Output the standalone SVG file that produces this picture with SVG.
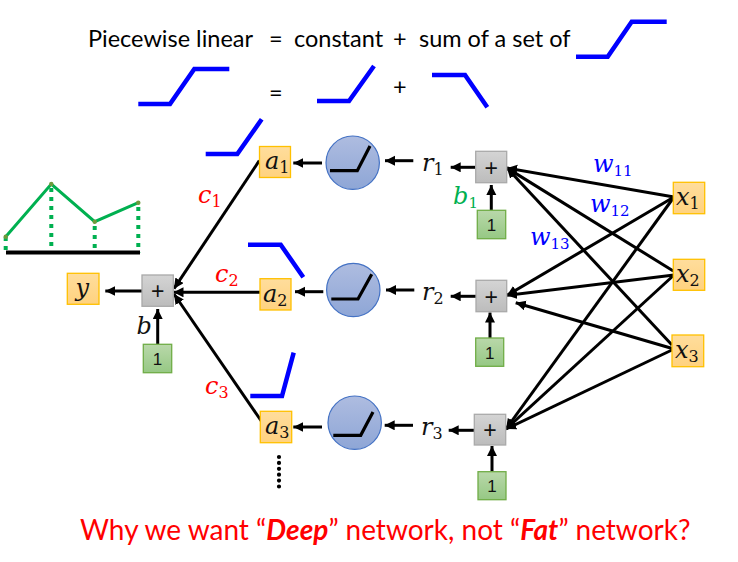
<svg xmlns="http://www.w3.org/2000/svg" width="738" height="562" viewBox="0 0 738 562">
<style>
.t{font-family:Lato,"Open Sans","Liberation Sans",sans-serif;font-size:23.5px;fill:#000}
.m{font-family:"DejaVu Serif","Liberation Serif",serif;font-style:italic;font-size:24px;fill:#111}
.s{font-size:16px;font-style:normal}
.s2{font-size:15px;font-style:normal}
.one{font-family:"Liberation Sans",sans-serif;font-size:17px;fill:#111;text-anchor:middle}
.p{font-family:"Liberation Sans",sans-serif;font-size:23px;fill:#111;text-anchor:middle}
.hinge{fill:none;stroke:#0000ff;stroke-width:4.5}
.relu{fill:none;stroke:#000;stroke-width:3.2}
.o{fill:url(#og);stroke:#ffc000;stroke-width:1.3}
.g{fill:url(#gg);stroke:#a9a9a9;stroke-width:1.3}
.n{fill:url(#ng);stroke:#70ad47;stroke-width:1.3}
.c{fill:url(#cg);stroke:#4472c4;stroke-width:1.2}
#connectors line{stroke:#000;stroke-width:3;marker-end:url(#a)}
.drop{stroke:#00b050;stroke-width:4;stroke-dasharray:4 5}
</style>
<defs>
<linearGradient id="og" x1="0" y1="0" x2="0" y2="1"><stop offset="0" stop-color="#ffdd9c"/><stop offset="1" stop-color="#ffd27f"/></linearGradient>
<linearGradient id="gg" x1="0" y1="0" x2="0" y2="1"><stop offset="0" stop-color="#d4d4d4"/><stop offset="1" stop-color="#bcbcbc"/></linearGradient>
<linearGradient id="ng" x1="0" y1="0" x2="0" y2="1"><stop offset="0" stop-color="#b9d8aa"/><stop offset="1" stop-color="#96c884"/></linearGradient>
<linearGradient id="cg" x1="0" y1="0" x2="0" y2="1"><stop offset="0" stop-color="#aebce0"/><stop offset="1" stop-color="#8ea6d6"/></linearGradient>
<marker id="a" markerUnits="userSpaceOnUse" markerWidth="12" markerHeight="12" refX="10" refY="5" orient="auto"><path d="M0 0L10 5L0 10Z" fill="#000"/></marker>
</defs>

<!-- heading and decomposition of the step curve -->
<g id="heading">
<text class="t" x="88" y="47">Piecewise linear</text>
<text class="t" x="269" y="47">=</text>
<text class="t" x="294" y="47">constant</text>
<text class="t" x="393" y="47">+</text>
<text class="t" x="419" y="47">sum of a set of</text>
<text class="t" x="269" y="101">=</text>
<text class="t" x="393" y="95">+</text>
<path class="hinge" d="M576 56.7H607.7L631.7 21.7H666.7"/>
<path class="hinge" d="M138.3 104H170L194.3 69H229.3"/>
<path class="hinge" d="M317 101H349L374 66"/>
<path class="hinge" d="M432 75H465L487.3 107.3"/>
<path class="hinge" d="M205.7 154H237.3L261.7 119.3"/>
<path class="hinge" d="M248 244.7H280.7L303.3 277.3"/>
<path class="hinge" d="M250.3 396H282L293.7 352.7"/>
</g>

<!-- piecewise curve sketch -->
<g id="curve">
<line class="drop" x1="5.7" y1="237" x2="5.7" y2="253"/>
<line class="drop" x1="51.3" y1="188" x2="51.3" y2="253"/>
<line class="drop" x1="94.7" y1="226" x2="94.7" y2="253"/>
<line class="drop" x1="138.3" y1="207" x2="138.3" y2="253"/>
<path d="M6 252.5H140" stroke="#000" stroke-width="4" fill="none"/>
<path d="M5.7 236.7L51.3 184L94.7 221.7L138.3 202.7" stroke="#00b050" stroke-width="3" fill="none"/>
<g fill="#6f9a3c"><circle cx="5.7" cy="236.7" r="2.2"/><circle cx="51.3" cy="184" r="2.2"/><circle cx="94.7" cy="221.7" r="2.2"/><circle cx="138.3" cy="202.7" r="2.2"/></g>
</g>

<g id="connectors">
<line x1="674" y1="197" x2="507" y2="168"/>
<line x1="673.3" y1="271" x2="507" y2="168"/>
<line x1="672" y1="345" x2="507" y2="168"/>
<line x1="674" y1="197" x2="507" y2="295.3"/>
<line x1="674" y1="275" x2="507" y2="295.3"/>
<line x1="674" y1="349" x2="515.7" y2="302.7"/>
<line x1="674" y1="197" x2="506" y2="429"/>
<line x1="674" y1="275" x2="506" y2="429"/>
<line x1="674" y1="349" x2="506" y2="429"/>
<line x1="475.7" y1="167.3" x2="450.7" y2="167.3"/>
<line x1="476" y1="296.3" x2="450.7" y2="296.3"/>
<line x1="474.3" y1="430.3" x2="448.7" y2="430.3"/>
<line x1="491.3" y1="210" x2="491.3" y2="185"/>
<line x1="490" y1="338" x2="490" y2="312.5"/>
<line x1="492" y1="471.7" x2="492" y2="446"/>
<line x1="413.3" y1="160.7" x2="385" y2="160.7"/>
<line x1="414.3" y1="290" x2="386" y2="290"/>
<line x1="413" y1="425.3" x2="384.7" y2="425.3"/>
<line x1="322" y1="163" x2="293.3" y2="163"/>
<line x1="323.3" y1="291.7" x2="295" y2="291.7"/>
<line x1="322" y1="427" x2="293.3" y2="427"/>
<line x1="259.3" y1="160.7" x2="174" y2="288.7"/>
<line x1="260" y1="292.3" x2="173.5" y2="292.3"/>
<line x1="264" y1="425" x2="174" y2="294"/>
<line x1="142" y1="291" x2="105.3" y2="291"/>
<line x1="157.7" y1="344" x2="157.7" y2="309"/>
</g>

<g id="x1"><rect class="o" x="673.3" y="182.3" width="31.4" height="31.4"/><text class="m" x="676" y="205">x<tspan class="s" dy="4">1</tspan></text></g>
<g id="x2"><rect class="o" x="673.3" y="259.3" width="31.4" height="31"/><text class="m" x="676" y="282">x<tspan class="s" dy="4">2</tspan></text></g>
<g id="x3"><rect class="o" x="672" y="335" width="31.7" height="31.7"/><text class="m" x="675" y="358">x<tspan class="s" dy="4">3</tspan></text></g>

<g id="plus1"><rect class="g" x="475.7" y="151.3" width="31" height="31.4"/><text class="p" x="491.3" y="175.5">+</text></g>
<g id="plus2"><rect class="g" x="476" y="280.3" width="30.7" height="31.4"/><text class="p" x="491.3" y="304.5">+</text></g>
<g id="plus3"><rect class="g" x="474.3" y="414.3" width="31.4" height="30.7"/><text class="p" x="490" y="438">+</text></g>
<g id="plus0"><rect class="g" x="142" y="275" width="31.3" height="31.3"/><text class="p" x="157.7" y="299">+</text></g>

<g id="one1"><rect class="n" x="477.3" y="210.3" width="28.4" height="28.4"/><text class="one" x="491.5" y="231">1</text></g>
<g id="one2"><rect class="n" x="475.7" y="338" width="28" height="28.3"/><text class="one" x="489.7" y="358.5">1</text></g>
<g id="one3"><rect class="n" x="478" y="471.7" width="28" height="28"/><text class="one" x="492" y="492">1</text></g>
<g id="one0"><rect class="n" x="143.3" y="344.3" width="28.4" height="28.4"/><text class="one" x="157.5" y="365">1</text></g>

<g id="r1"><text class="m" x="422" y="171">r<tspan class="s" dy="4">1</tspan></text></g>
<g id="r2"><text class="m" x="422" y="300">r<tspan class="s" dy="4">2</tspan></text></g>
<g id="r3"><text class="m" x="421" y="435">r<tspan class="s" dy="4">3</tspan></text></g>

<g id="relu1"><circle class="c" cx="352.7" cy="162.7" r="26.7"/><path class="relu" d="M330 170.7H357.3L370 146"/></g>
<g id="relu2"><circle class="c" cx="353.3" cy="290" r="26.7"/><path class="relu" d="M331.3 299H358L371.7 274.3"/></g>
<g id="relu3"><circle class="c" cx="354.7" cy="422.7" r="26.7"/><path class="relu" d="M333.3 435.3H360.7L373 412"/></g>

<g id="a1"><rect class="o" x="259.5" y="146.5" width="31" height="31"/><text class="m" x="265" y="169">a<tspan class="s" dy="4">1</tspan></text></g>
<g id="a2"><rect class="o" x="260" y="278.7" width="31" height="31.3"/><text class="m" x="263" y="302">a<tspan class="s" dy="4">2</tspan></text></g>
<g id="a3"><rect class="o" x="260.3" y="411.3" width="31.4" height="31.4"/><text class="m" x="265" y="434">a<tspan class="s" dy="4">3</tspan></text></g>
<g id="y"><rect class="o" x="67.3" y="273.3" width="31.7" height="31"/><text class="m" x="75.5" y="296">y</text></g>

<!-- weights and bias labels -->
<g id="labels">
<text class="m" x="136.5" y="334">b</text>
<text class="m" x="453" y="204" style="fill:#00b050">b<tspan class="s2" dy="4">1</tspan></text>
<text class="m" x="198" y="203" style="fill:#ff0000">c<tspan class="s" dy="4">1</tspan></text>
<text class="m" x="215" y="282" style="fill:#ff0000">c<tspan class="s" dy="4">2</tspan></text>
<text class="m" x="205" y="394" style="fill:#ff0000">c<tspan class="s" dy="4">3</tspan></text>
<text class="m" x="593" y="172" style="fill:#0000ff">w<tspan class="s2" dy="4">11</tspan></text>
<text class="m" x="590" y="212" style="fill:#0000ff">w<tspan class="s2" dy="4">12</tspan></text>
<text class="m" x="530" y="245" style="fill:#0000ff">w<tspan class="s2" dy="4">13</tspan></text>
</g>

<path id="more" d="M279 457V492" stroke="#000" stroke-width="4.2" stroke-linecap="round" stroke-dasharray="0 5.9" fill="none"/>

<text id="question" x="80" y="540" style="font-family:Lato,'Open Sans','Liberation Sans',sans-serif;font-size:28px;fill:#ff0000">Why we want “<tspan font-weight="700" font-style="italic">Deep</tspan>” network, not “<tspan font-weight="700" font-style="italic">Fat</tspan>” network?</text>
</svg>
